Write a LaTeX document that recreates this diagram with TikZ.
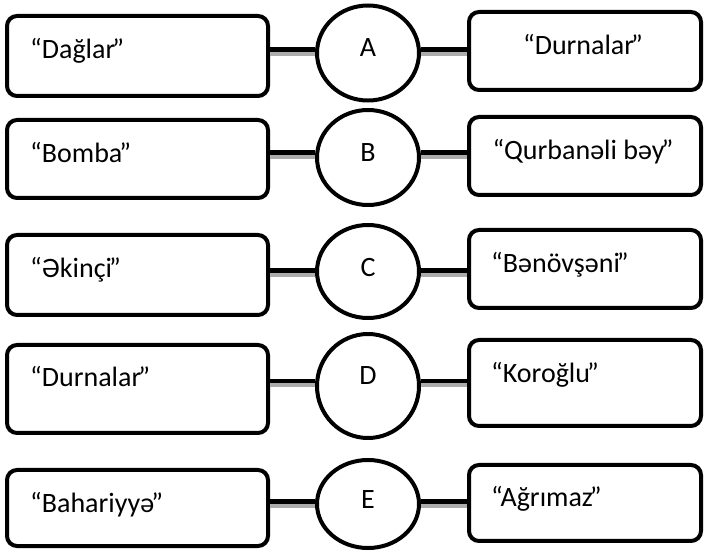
\documentclass[tikz,border=0pt]{standalone}
\usepackage{fontspec}
\setmainfont{Carlito}
\usepackage{tikz}
\usetikzlibrary{shapes.geometric}

\newcommand\bagla{\kern-3pt”}
\tikzset{
  qutu/.style={draw,line width=4pt,rounded corners=10pt,inner sep=0pt},
  solqutu/.style={qutu,minimum width=261pt},
  sagqutu/.style={qutu,minimum width=232pt},
  herf/.style={ellipse,draw,line width=4pt,minimum width=102pt,inner sep=0pt},
  xett/.style={line width=4.5pt},
  kolge/.style={line width=4pt,gray!65,transform canvas={yshift=-4.5pt}},
  yazi/.style={inner sep=0pt,font=\fontsize{28}{32}\selectfont},
}

\begin{document}
\begin{tikzpicture}[x=1pt,y=-1pt]
  \useasboundingbox (0,0) rectangle (705,553);
  % sol qutular
  \node[solqutu,minimum height=80pt](sol1)at(137.5,56){};
  \node[solqutu,minimum height=78pt](sol2)at(137.5,159){};
  \node[solqutu,minimum height=80pt](sol3)at(137.5,275){};
  \node[solqutu,minimum height=88pt](sol4)at(137.5,389){};
  \node[solqutu,minimum height=76pt](sol5)at(137.5,508){};
  % sag qutular
  \node[sagqutu,minimum height=78pt](sag1)at(585,51){};
  \node[sagqutu,minimum height=78pt](sag2)at(585,156){};
  \node[sagqutu,minimum height=78pt](sag3)at(585,269){};
  \node[sagqutu,minimum height=86pt](sag4)at(585,383){};
  \node[sagqutu,minimum height=76pt](sag5)at(585,503){};
  % herfler
  \node[herf,minimum height=95pt](herfA)at(368,53){};
  \node[herf,minimum height=95pt](herfB)at(368,157.5){};
  \node[herf,minimum height=93pt](herfC)at(368,271.5){};
  \node[herf,minimum height=104pt](herfD)at(368,386){};
  \node[herf,minimum height=88pt](herfE)at(368,504){};
  % xettler
  \coordinate(y1)at(0,49.5);
  \coordinate(y2)at(0,152.5);
  \coordinate(y3)at(0,270.5);
  \coordinate(y4)at(0,381);
  \coordinate(y5)at(0,501.5);
  \foreach \i/\h in {1/A,2/B,3/C,4/D,5/E}{
    \draw[kolge](sol\i.east|-y\i)--(herf\h.west|-y\i);
    \draw[xett](sol\i.east|-y\i)--(herf\h.west|-y\i);
    \draw[kolge](herf\h.east|-y\i)--(sag\i.west|-y\i);
    \draw[xett](herf\h.east|-y\i)--(sag\i.west|-y\i);
  }
  % yazilar
  \node[yazi,anchor=base west](ts1)at(30,59){“Dağlar\bagla};
  \node[yazi,anchor=base west](ts2)at(30,163){“Bomba\bagla};
  \node[yazi,anchor=base west](ts3)at(30,278){“Əkinçi\bagla};
  \node[yazi,anchor=base west](ts4)at(30,387){“Durnalar\bagla};
  \node[yazi,anchor=base west](ts5)at(30,513){“Bahariyyə\bagla};
  \node[yazi,anchor=base](tr1)at(583,55){“Durnalar\bagla};
  \node[yazi,anchor=base](tr2)at(583,160){“Qurbanəli bəy\bagla};
  \node[yazi,anchor=base west](tr3)at(491,273){“Bənövşəni\bagla};
  \node[yazi,anchor=base west](tr4)at(491,383){“Koroğlu\bagla};
  \node[yazi,anchor=base west](tr5)at(491,507){“Ağrımaz\bagla};
  \node[yazi,anchor=base](tA)at(368,57){A};
  \node[yazi,anchor=base](tB)at(368,162){B};
  \node[yazi,anchor=base](tC)at(368,277){C};
  \node[yazi,anchor=base](tD)at(368,385){D};
  \node[yazi,anchor=base](tE)at(368,509){E};
\end{tikzpicture}
\end{document}
